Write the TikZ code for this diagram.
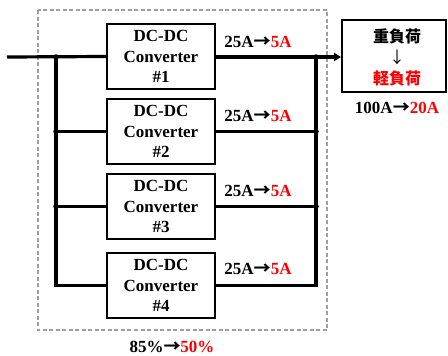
\documentclass[tikz,border=0pt]{standalone}
\usepackage{fontspec}
\setmainfont{Liberation Serif}
\newfontfamily\cjk{Noto Sans CJK JP}
\newcommand{\myarr}{{\cjk\bfseries →}}
\usetikzlibrary{arrows.meta}
\begin{document}
\begin{tikzpicture}[x=1pt,y=-1pt,
  conv/.style={draw,line width=1.8pt,minimum width=108pt,minimum height=65pt,inner sep=0pt,align=center,font=\fontsize{17}{20.5}\selectfont\bfseries},
  wire/.style={line width=3.2pt},
  lbl/.style={font=\fontsize{17}{20}\selectfont\bfseries,inner sep=0pt},
  jdot/.style={circle,fill=black,inner sep=0pt,minimum size=5.5pt}]
\useasboundingbox (0,0) rectangle (448,356);
% dashed enclosure
\draw[gray!75,line width=1.6pt,dash pattern=on 4pt off 2.5pt] (38,10) rectangle (327,330);
% converters
\node[conv] (c1) at (161,56.5) {DC-DC\\Converter\\\#1};
\node[conv] (c2) at (161,131.5) {DC-DC\\Converter\\\#2};
\node[conv] (c3) at (161,206.5) {DC-DC\\Converter\\\#3};
\node[conv] (c4) at (161,285.5) {DC-DC\\Converter\\\#4};
% load
\node[draw,line width=1.8pt,minimum width=104pt,minimum height=72pt,inner sep=0pt] (load) at (394,56) {};
\node[font=\cjk\bfseries\fontsize{16}{16}\selectfont,inner sep=0pt] (h) at (397,36) {重負荷};
\node[font=\cjk\fontsize{16}{16}\selectfont,inner sep=0pt] (ar) at (397,57) {↓};
\node[font=\cjk\bfseries\fontsize{16}{16}\selectfont,text=red,inner sep=0pt] (l) at (397,78) {軽負荷};
% junction coordinates
\coordinate (in) at (7,57);
\coordinate (lb1) at (56,57);
\coordinate (lb2) at (56,131.5);
\coordinate (lb3) at (56,206.5);
\coordinate (lb4) at (56,285.5);
\coordinate (rb1) at (316,57);
\coordinate (rb2) at (316,131.5);
\coordinate (rb3) at (316,206.5);
\coordinate (rb4) at (316,285.5);
% wires
\draw[wire] (in) -- (c1.west);
\draw[wire] (lb2) -- (c2.west);
\draw[wire] (lb3) -- (c3.west);
\draw[wire,line join=miter] (lb1) -- (lb4) -- (c4.west);
\draw[wire,-{Triangle[length=7pt,width=8pt]}] (c1.east |- rb1) -- (load.west |- rb1);
\draw[wire] (c2.east) -- (rb2);
\draw[wire] (c3.east) -- (rb3);
\draw[wire,line join=miter] (rb1) -- (rb4) -- (c4.east);
\foreach \p in {lb1,lb2,lb3,rb1,rb2,rb3} \node[jdot] at (\p) {};
% labels
\node[lbl] (a1) at (258,42) {25A\myarr\textcolor{red}{5A}};
\node[lbl] (a2) at (258,116) {25A\myarr\textcolor{red}{5A}};
\node[lbl] (a3) at (258,191) {25A\myarr\textcolor{red}{5A}};
\node[lbl] (a4) at (258,269) {25A\myarr\textcolor{red}{5A}};
\node[lbl] (tot) at (397,108) {100A\myarr\textcolor{red}{20A}};
\node[lbl] (eff) at (172,347) {85\%\myarr\textcolor{red}{50\%}};
\end{tikzpicture}
\end{document}
